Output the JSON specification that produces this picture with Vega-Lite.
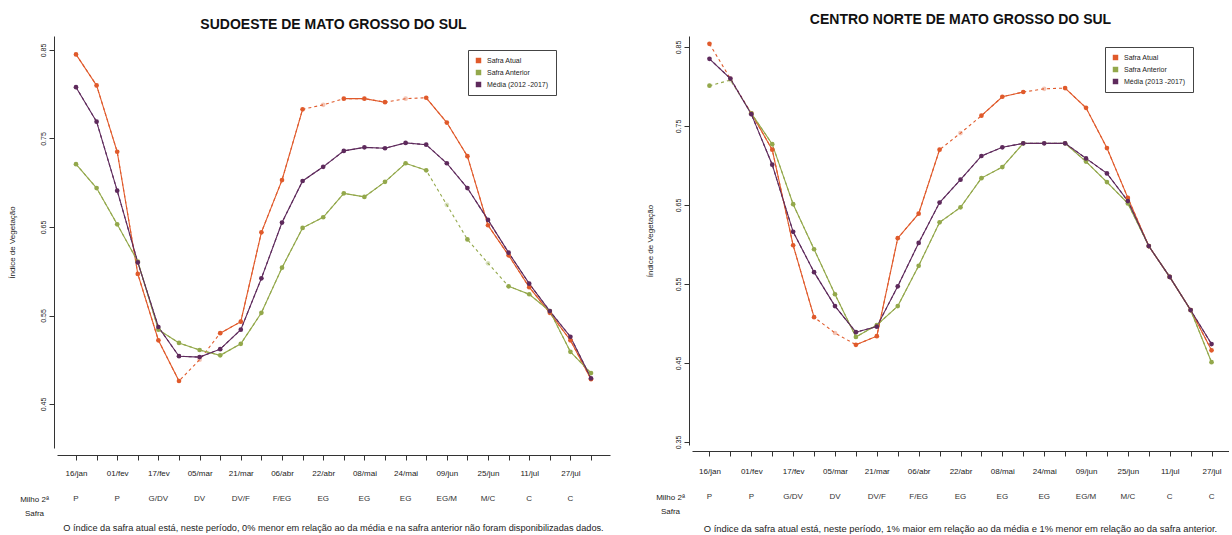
{
"$schema": "https://vega.github.io/schema/vega-lite/v6.json",
"padding": {"left": 8, "top": 13, "right": 0, "bottom": 0},
"spacing": 36,
"resolve": {"scale": {"color": "independent", "x": "independent", "y": "independent"}},
"config": {
  "view": {"stroke": null},
  "font": "Liberation Sans",
  "axis": {"domainColor": "#333", "tickColor": "#333", "labelColor": "#222", "titleColor": "#222", "grid": false, "labelFont": "Liberation Sans", "titleFont": "Liberation Sans"},
  "title": {"color": "#111", "font": "Liberation Sans", "fontWeight": "bold", "fontSize": 14},
  "legend": {"padding": 7, "strokeColor": "#444", "fillColor": "white", "labelFontSize": 7, "symbolSize": 30, "symbolType": "square", "rowPadding": 4, "labelOffset": 5, "symbolStrokeWidth": 0, "labelColor": "#222"}
},
"datasets": {
  "estagios": [
    {"data": "16/jan", "estagio": "P", "cultura": "Milho 2ª Safra"},
    {"data": "01/fev", "estagio": "P", "cultura": "Milho 2ª Safra"},
    {"data": "17/fev", "estagio": "G/DV", "cultura": "Milho 2ª Safra"},
    {"data": "05/mar", "estagio": "DV", "cultura": "Milho 2ª Safra"},
    {"data": "21/mar", "estagio": "DV/F", "cultura": "Milho 2ª Safra"},
    {"data": "06/abr", "estagio": "F/EG", "cultura": "Milho 2ª Safra"},
    {"data": "22/abr", "estagio": "EG", "cultura": "Milho 2ª Safra"},
    {"data": "08/mai", "estagio": "EG", "cultura": "Milho 2ª Safra"},
    {"data": "24/mai", "estagio": "EG", "cultura": "Milho 2ª Safra"},
    {"data": "09/jun", "estagio": "EG/M", "cultura": "Milho 2ª Safra"},
    {"data": "25/jun", "estagio": "M/C", "cultura": "Milho 2ª Safra"},
    {"data": "11/jul", "estagio": "C", "cultura": "Milho 2ª Safra"},
    {"data": "27/jul", "estagio": "C", "cultura": "Milho 2ª Safra"}
  ],
  "sudoeste": [
    {"serie": "Safra Atual", "data": "16/jan", "indice": 0.845, "estimado": false, "trecho": 1},
    {"serie": "Safra Atual", "data": "24/jan", "indice": 0.810, "estimado": false, "trecho": 1},
    {"serie": "Safra Atual", "data": "01/fev", "indice": 0.735, "estimado": false, "trecho": 1},
    {"serie": "Safra Atual", "data": "09/fev", "indice": 0.597, "estimado": false, "trecho": 1},
    {"serie": "Safra Atual", "data": "17/fev", "indice": 0.522, "estimado": false, "trecho": 1},
    {"serie": "Safra Atual", "data": "25/fev", "indice": 0.476, "estimado": false, "trecho": 1},
    {"serie": "Safra Atual", "data": "05/mar", "indice": 0.500, "estimado": true, "trecho": 0},
    {"serie": "Safra Atual", "data": "13/mar", "indice": 0.530, "estimado": false, "trecho": 2},
    {"serie": "Safra Atual", "data": "21/mar", "indice": 0.543, "estimado": false, "trecho": 2},
    {"serie": "Safra Atual", "data": "29/mar", "indice": 0.644, "estimado": false, "trecho": 2},
    {"serie": "Safra Atual", "data": "06/abr", "indice": 0.703, "estimado": false, "trecho": 2},
    {"serie": "Safra Atual", "data": "14/abr", "indice": 0.783, "estimado": false, "trecho": 2},
    {"serie": "Safra Atual", "data": "22/abr", "indice": 0.788, "estimado": true, "trecho": 0},
    {"serie": "Safra Atual", "data": "30/abr", "indice": 0.795, "estimado": false, "trecho": 3},
    {"serie": "Safra Atual", "data": "08/mai", "indice": 0.795, "estimado": false, "trecho": 3},
    {"serie": "Safra Atual", "data": "16/mai", "indice": 0.791, "estimado": false, "trecho": 3},
    {"serie": "Safra Atual", "data": "24/mai", "indice": 0.795, "estimado": true, "trecho": 0},
    {"serie": "Safra Atual", "data": "01/jun", "indice": 0.796, "estimado": false, "trecho": 4},
    {"serie": "Safra Atual", "data": "09/jun", "indice": 0.768, "estimado": false, "trecho": 4},
    {"serie": "Safra Atual", "data": "17/jun", "indice": 0.730, "estimado": false, "trecho": 4},
    {"serie": "Safra Atual", "data": "25/jun", "indice": 0.652, "estimado": false, "trecho": 4},
    {"serie": "Safra Atual", "data": "03/jul", "indice": 0.618, "estimado": false, "trecho": 4},
    {"serie": "Safra Atual", "data": "11/jul", "indice": 0.582, "estimado": false, "trecho": 4},
    {"serie": "Safra Atual", "data": "19/jul", "indice": 0.553, "estimado": false, "trecho": 4},
    {"serie": "Safra Atual", "data": "27/jul", "indice": 0.522, "estimado": false, "trecho": 4},
    {"serie": "Safra Atual", "data": "04/ago", "indice": 0.478, "estimado": false, "trecho": 4},
    {"serie": "Safra Anterior", "data": "16/jan", "indice": 0.721, "estimado": false, "trecho": 1},
    {"serie": "Safra Anterior", "data": "24/jan", "indice": 0.694, "estimado": false, "trecho": 1},
    {"serie": "Safra Anterior", "data": "01/fev", "indice": 0.653, "estimado": false, "trecho": 1},
    {"serie": "Safra Anterior", "data": "09/fev", "indice": 0.611, "estimado": false, "trecho": 1},
    {"serie": "Safra Anterior", "data": "17/fev", "indice": 0.534, "estimado": false, "trecho": 1},
    {"serie": "Safra Anterior", "data": "25/fev", "indice": 0.519, "estimado": false, "trecho": 1},
    {"serie": "Safra Anterior", "data": "05/mar", "indice": 0.511, "estimado": false, "trecho": 1},
    {"serie": "Safra Anterior", "data": "13/mar", "indice": 0.505, "estimado": false, "trecho": 1},
    {"serie": "Safra Anterior", "data": "21/mar", "indice": 0.518, "estimado": false, "trecho": 1},
    {"serie": "Safra Anterior", "data": "29/mar", "indice": 0.553, "estimado": false, "trecho": 1},
    {"serie": "Safra Anterior", "data": "06/abr", "indice": 0.604, "estimado": false, "trecho": 1},
    {"serie": "Safra Anterior", "data": "14/abr", "indice": 0.649, "estimado": false, "trecho": 1},
    {"serie": "Safra Anterior", "data": "22/abr", "indice": 0.661, "estimado": false, "trecho": 1},
    {"serie": "Safra Anterior", "data": "30/abr", "indice": 0.688, "estimado": false, "trecho": 1},
    {"serie": "Safra Anterior", "data": "08/mai", "indice": 0.684, "estimado": false, "trecho": 1},
    {"serie": "Safra Anterior", "data": "16/mai", "indice": 0.701, "estimado": false, "trecho": 1},
    {"serie": "Safra Anterior", "data": "24/mai", "indice": 0.722, "estimado": false, "trecho": 1},
    {"serie": "Safra Anterior", "data": "01/jun", "indice": 0.714, "estimado": false, "trecho": 1},
    {"serie": "Safra Anterior", "data": "09/jun", "indice": 0.675, "estimado": true, "trecho": 0},
    {"serie": "Safra Anterior", "data": "17/jun", "indice": 0.636, "estimado": false, "trecho": 2},
    {"serie": "Safra Anterior", "data": "25/jun", "indice": 0.609, "estimado": true, "trecho": 0},
    {"serie": "Safra Anterior", "data": "03/jul", "indice": 0.583, "estimado": false, "trecho": 3},
    {"serie": "Safra Anterior", "data": "11/jul", "indice": 0.574, "estimado": false, "trecho": 3},
    {"serie": "Safra Anterior", "data": "19/jul", "indice": 0.555, "estimado": false, "trecho": 3},
    {"serie": "Safra Anterior", "data": "27/jul", "indice": 0.509, "estimado": false, "trecho": 3},
    {"serie": "Safra Anterior", "data": "04/ago", "indice": 0.485, "estimado": false, "trecho": 3},
    {"serie": "Média (2012 -2017)", "data": "16/jan", "indice": 0.808, "estimado": false, "trecho": 1},
    {"serie": "Média (2012 -2017)", "data": "24/jan", "indice": 0.769, "estimado": false, "trecho": 1},
    {"serie": "Média (2012 -2017)", "data": "01/fev", "indice": 0.691, "estimado": false, "trecho": 1},
    {"serie": "Média (2012 -2017)", "data": "09/fev", "indice": 0.610, "estimado": false, "trecho": 1},
    {"serie": "Média (2012 -2017)", "data": "17/fev", "indice": 0.537, "estimado": false, "trecho": 1},
    {"serie": "Média (2012 -2017)", "data": "25/fev", "indice": 0.504, "estimado": false, "trecho": 1},
    {"serie": "Média (2012 -2017)", "data": "05/mar", "indice": 0.503, "estimado": false, "trecho": 1},
    {"serie": "Média (2012 -2017)", "data": "13/mar", "indice": 0.512, "estimado": false, "trecho": 1},
    {"serie": "Média (2012 -2017)", "data": "21/mar", "indice": 0.534, "estimado": false, "trecho": 1},
    {"serie": "Média (2012 -2017)", "data": "29/mar", "indice": 0.592, "estimado": false, "trecho": 1},
    {"serie": "Média (2012 -2017)", "data": "06/abr", "indice": 0.655, "estimado": false, "trecho": 1},
    {"serie": "Média (2012 -2017)", "data": "14/abr", "indice": 0.702, "estimado": false, "trecho": 1},
    {"serie": "Média (2012 -2017)", "data": "22/abr", "indice": 0.718, "estimado": false, "trecho": 1},
    {"serie": "Média (2012 -2017)", "data": "30/abr", "indice": 0.736, "estimado": false, "trecho": 1},
    {"serie": "Média (2012 -2017)", "data": "08/mai", "indice": 0.740, "estimado": false, "trecho": 1},
    {"serie": "Média (2012 -2017)", "data": "16/mai", "indice": 0.739, "estimado": false, "trecho": 1},
    {"serie": "Média (2012 -2017)", "data": "24/mai", "indice": 0.745, "estimado": false, "trecho": 1},
    {"serie": "Média (2012 -2017)", "data": "01/jun", "indice": 0.743, "estimado": false, "trecho": 1},
    {"serie": "Média (2012 -2017)", "data": "09/jun", "indice": 0.722, "estimado": false, "trecho": 1},
    {"serie": "Média (2012 -2017)", "data": "17/jun", "indice": 0.694, "estimado": false, "trecho": 1},
    {"serie": "Média (2012 -2017)", "data": "25/jun", "indice": 0.658, "estimado": false, "trecho": 1},
    {"serie": "Média (2012 -2017)", "data": "03/jul", "indice": 0.621, "estimado": false, "trecho": 1},
    {"serie": "Média (2012 -2017)", "data": "11/jul", "indice": 0.586, "estimado": false, "trecho": 1},
    {"serie": "Média (2012 -2017)", "data": "19/jul", "indice": 0.555, "estimado": false, "trecho": 1},
    {"serie": "Média (2012 -2017)", "data": "27/jul", "indice": 0.526, "estimado": false, "trecho": 1},
    {"serie": "Média (2012 -2017)", "data": "04/ago", "indice": 0.479, "estimado": false, "trecho": 1}
  ],
  "centro_norte": [
    {"serie": "Safra Atual", "data": "16/jan", "indice": 0.854, "estimado": false, "trecho": 1},
    {"serie": "Safra Atual", "data": "24/jan", "indice": 0.810, "estimado": true, "trecho": 0},
    {"serie": "Safra Atual", "data": "01/fev", "indice": 0.766, "estimado": false, "trecho": 2},
    {"serie": "Safra Atual", "data": "09/fev", "indice": 0.720, "estimado": false, "trecho": 2},
    {"serie": "Safra Atual", "data": "17/fev", "indice": 0.599, "estimado": false, "trecho": 2},
    {"serie": "Safra Atual", "data": "25/fev", "indice": 0.508, "estimado": false, "trecho": 2},
    {"serie": "Safra Atual", "data": "05/mar", "indice": 0.488, "estimado": true, "trecho": 0},
    {"serie": "Safra Atual", "data": "13/mar", "indice": 0.473, "estimado": false, "trecho": 3},
    {"serie": "Safra Atual", "data": "21/mar", "indice": 0.484, "estimado": false, "trecho": 3},
    {"serie": "Safra Atual", "data": "29/mar", "indice": 0.608, "estimado": false, "trecho": 3},
    {"serie": "Safra Atual", "data": "06/abr", "indice": 0.639, "estimado": false, "trecho": 3},
    {"serie": "Safra Atual", "data": "14/abr", "indice": 0.720, "estimado": false, "trecho": 3},
    {"serie": "Safra Atual", "data": "22/abr", "indice": 0.741, "estimado": true, "trecho": 0},
    {"serie": "Safra Atual", "data": "30/abr", "indice": 0.763, "estimado": false, "trecho": 4},
    {"serie": "Safra Atual", "data": "08/mai", "indice": 0.787, "estimado": false, "trecho": 4},
    {"serie": "Safra Atual", "data": "16/mai", "indice": 0.793, "estimado": false, "trecho": 4},
    {"serie": "Safra Atual", "data": "24/mai", "indice": 0.797, "estimado": true, "trecho": 0},
    {"serie": "Safra Atual", "data": "01/jun", "indice": 0.798, "estimado": false, "trecho": 5},
    {"serie": "Safra Atual", "data": "09/jun", "indice": 0.773, "estimado": false, "trecho": 5},
    {"serie": "Safra Atual", "data": "17/jun", "indice": 0.722, "estimado": false, "trecho": 5},
    {"serie": "Safra Atual", "data": "25/jun", "indice": 0.659, "estimado": false, "trecho": 5},
    {"serie": "Safra Atual", "data": "03/jul", "indice": 0.598, "estimado": false, "trecho": 5},
    {"serie": "Safra Atual", "data": "11/jul", "indice": 0.559, "estimado": false, "trecho": 5},
    {"serie": "Safra Atual", "data": "19/jul", "indice": 0.517, "estimado": false, "trecho": 5},
    {"serie": "Safra Atual", "data": "27/jul", "indice": 0.466, "estimado": false, "trecho": 5},
    {"serie": "Safra Anterior", "data": "16/jan", "indice": 0.801, "estimado": false, "trecho": 1},
    {"serie": "Safra Anterior", "data": "24/jan", "indice": 0.808, "estimado": true, "trecho": 0},
    {"serie": "Safra Anterior", "data": "01/fev", "indice": 0.766, "estimado": false, "trecho": 2},
    {"serie": "Safra Anterior", "data": "09/fev", "indice": 0.727, "estimado": false, "trecho": 2},
    {"serie": "Safra Anterior", "data": "17/fev", "indice": 0.651, "estimado": false, "trecho": 2},
    {"serie": "Safra Anterior", "data": "25/fev", "indice": 0.594, "estimado": false, "trecho": 2},
    {"serie": "Safra Anterior", "data": "05/mar", "indice": 0.537, "estimado": false, "trecho": 2},
    {"serie": "Safra Anterior", "data": "13/mar", "indice": 0.483, "estimado": false, "trecho": 2},
    {"serie": "Safra Anterior", "data": "21/mar", "indice": 0.498, "estimado": false, "trecho": 2},
    {"serie": "Safra Anterior", "data": "29/mar", "indice": 0.522, "estimado": false, "trecho": 2},
    {"serie": "Safra Anterior", "data": "06/abr", "indice": 0.573, "estimado": false, "trecho": 2},
    {"serie": "Safra Anterior", "data": "14/abr", "indice": 0.628, "estimado": false, "trecho": 2},
    {"serie": "Safra Anterior", "data": "22/abr", "indice": 0.647, "estimado": false, "trecho": 2},
    {"serie": "Safra Anterior", "data": "30/abr", "indice": 0.684, "estimado": false, "trecho": 2},
    {"serie": "Safra Anterior", "data": "08/mai", "indice": 0.698, "estimado": false, "trecho": 2},
    {"serie": "Safra Anterior", "data": "16/mai", "indice": 0.728, "estimado": false, "trecho": 2},
    {"serie": "Safra Anterior", "data": "24/mai", "indice": 0.728, "estimado": true, "trecho": 0},
    {"serie": "Safra Anterior", "data": "01/jun", "indice": 0.728, "estimado": false, "trecho": 3},
    {"serie": "Safra Anterior", "data": "09/jun", "indice": 0.705, "estimado": false, "trecho": 3},
    {"serie": "Safra Anterior", "data": "17/jun", "indice": 0.679, "estimado": false, "trecho": 3},
    {"serie": "Safra Anterior", "data": "25/jun", "indice": 0.652, "estimado": false, "trecho": 3},
    {"serie": "Safra Anterior", "data": "03/jul", "indice": 0.598, "estimado": false, "trecho": 3},
    {"serie": "Safra Anterior", "data": "11/jul", "indice": 0.559, "estimado": false, "trecho": 3},
    {"serie": "Safra Anterior", "data": "19/jul", "indice": 0.517, "estimado": false, "trecho": 3},
    {"serie": "Safra Anterior", "data": "27/jul", "indice": 0.451, "estimado": false, "trecho": 3},
    {"serie": "Média (2013 -2017)", "data": "16/jan", "indice": 0.835, "estimado": false, "trecho": 1},
    {"serie": "Média (2013 -2017)", "data": "24/jan", "indice": 0.810, "estimado": false, "trecho": 1},
    {"serie": "Média (2013 -2017)", "data": "01/fev", "indice": 0.765, "estimado": false, "trecho": 1},
    {"serie": "Média (2013 -2017)", "data": "09/fev", "indice": 0.701, "estimado": false, "trecho": 1},
    {"serie": "Média (2013 -2017)", "data": "17/fev", "indice": 0.616, "estimado": false, "trecho": 1},
    {"serie": "Média (2013 -2017)", "data": "25/fev", "indice": 0.565, "estimado": false, "trecho": 1},
    {"serie": "Média (2013 -2017)", "data": "05/mar", "indice": 0.522, "estimado": false, "trecho": 1},
    {"serie": "Média (2013 -2017)", "data": "13/mar", "indice": 0.489, "estimado": false, "trecho": 1},
    {"serie": "Média (2013 -2017)", "data": "21/mar", "indice": 0.496, "estimado": false, "trecho": 1},
    {"serie": "Média (2013 -2017)", "data": "29/mar", "indice": 0.547, "estimado": false, "trecho": 1},
    {"serie": "Média (2013 -2017)", "data": "06/abr", "indice": 0.602, "estimado": false, "trecho": 1},
    {"serie": "Média (2013 -2017)", "data": "14/abr", "indice": 0.653, "estimado": false, "trecho": 1},
    {"serie": "Média (2013 -2017)", "data": "22/abr", "indice": 0.682, "estimado": false, "trecho": 1},
    {"serie": "Média (2013 -2017)", "data": "30/abr", "indice": 0.712, "estimado": false, "trecho": 1},
    {"serie": "Média (2013 -2017)", "data": "08/mai", "indice": 0.723, "estimado": false, "trecho": 1},
    {"serie": "Média (2013 -2017)", "data": "16/mai", "indice": 0.728, "estimado": false, "trecho": 1},
    {"serie": "Média (2013 -2017)", "data": "24/mai", "indice": 0.728, "estimado": false, "trecho": 1},
    {"serie": "Média (2013 -2017)", "data": "01/jun", "indice": 0.728, "estimado": false, "trecho": 1},
    {"serie": "Média (2013 -2017)", "data": "09/jun", "indice": 0.709, "estimado": false, "trecho": 1},
    {"serie": "Média (2013 -2017)", "data": "17/jun", "indice": 0.690, "estimado": false, "trecho": 1},
    {"serie": "Média (2013 -2017)", "data": "25/jun", "indice": 0.655, "estimado": false, "trecho": 1},
    {"serie": "Média (2013 -2017)", "data": "03/jul", "indice": 0.598, "estimado": false, "trecho": 1},
    {"serie": "Média (2013 -2017)", "data": "11/jul", "indice": 0.559, "estimado": false, "trecho": 1},
    {"serie": "Média (2013 -2017)", "data": "19/jul", "indice": 0.517, "estimado": false, "trecho": 1},
    {"serie": "Média (2013 -2017)", "data": "27/jul", "indice": 0.474, "estimado": false, "trecho": 1}
  ]
},
"hconcat": [
  {
    "spacing": 12,
    "vconcat": [
      {
        "width": 553, "height": 412,
        "title": {"text": "SUDOESTE DE MATO GROSSO DO SUL", "offset": 4},
        "data": {"name": "sudoeste"},
        "encoding": {
          "x": {"field": "data", "type": "ordinal",
                "sort": ["16/jan","24/jan","01/fev","09/fev","17/fev","25/fev","05/mar","13/mar","21/mar","29/mar","06/abr","14/abr","22/abr","30/abr","08/mai","16/mai","24/mai","01/jun","09/jun","17/jun","25/jun","03/jul","11/jul","19/jul","27/jul","04/ago"],
                "scale": {"type": "point", "padding": 0.922},
                "axis": {"title": null, "labelAngle": 0, "labelOverlap": false, "labelExpr": "round(datum.index * 25) % 2 == 0 ? datum.label : ''", "tickSize": 5, "labelPadding": 9, "offset": 7, "labelFontSize": 8}},
          "y": {"field": "indice", "type": "quantitative",
                "scale": {"domain": [0.4003, 0.8658], "zero": false, "nice": false},
                "axis": {"title": "Índice de Vegetação", "values": [0.45, 0.55, 0.65, 0.75, 0.85], "format": ".2f", "labelAngle": -90, "offset": 3, "tickSize": 5, "labelPadding": 3, "labelFontSize": 7, "titleFontSize": 8, "titleFontWeight": "normal", "titlePadding": 23}},
          "color": {"field": "serie", "type": "nominal",
                    "scale": {"domain": ["Safra Atual", "Safra Anterior", "Média (2012 -2017)"], "range": ["#E05A2B", "#93A84B", "#5E2A5C"]},
                    "legend": {"title": null, "orient": "none", "legendX": 411, "legendY": 14}}
        },
        "layer": [
          {"mark": {"type": "line", "strokeDash": [3, 3], "strokeWidth": 1.1}},
          {"transform": [{"filter": "!datum.estimado"}], "mark": {"type": "line", "strokeWidth": 1.1}, "encoding": {"detail": {"field": "trecho", "type": "nominal"}}},
          {"mark": {"type": "circle", "size": 22}, "encoding": {"opacity": {"condition": {"test": "datum.estimado", "value": 0.35}, "value": 1}}}
        ]
      },
      {
        "width": 553, "height": 20,
        "data": {"name": "estagios"},
        "title": {"text": "O índice da safra atual está, neste período, 0% menor em relação ao da média e na safra anterior não foram disponibilizadas dados.", "orient": "bottom", "fontSize": 9.2, "fontWeight": "normal", "offset": 7, "color": "#222"},
        "mark": {"type": "text", "fontSize": 8, "color": "#333"},
        "encoding": {
          "x": {"field": "data", "type": "ordinal",
                "scale": {"type": "point", "padding": 0.922, "domain": ["16/jan","24/jan","01/fev","09/fev","17/fev","25/fev","05/mar","13/mar","21/mar","29/mar","06/abr","14/abr","22/abr","30/abr","08/mai","16/mai","24/mai","01/jun","09/jun","17/jun","25/jun","03/jul","11/jul","19/jul","27/jul","04/ago"]},
                "axis": null},
          "y": {"field": "cultura", "type": "nominal",
                "axis": {"title": null, "domain": false, "ticks": false, "tickSize": 0, "labelExpr": "[slice(datum.label, 0, 8), slice(datum.label, 9)]", "labelAlign": "center", "labelPadding": 23, "labelFontSize": 8, "labelLineHeight": 14}},
          "text": {"field": "estagio", "type": "nominal"}
        }
      }
    ]
  },
  {
    "spacing": 12,
    "vconcat": [
      {
        "width": 537, "height": 409,
        "title": {"text": "CENTRO NORTE DE MATO GROSSO DO SUL", "offset": 9},
        "data": {"name": "centro_norte"},
        "encoding": {
          "x": {"field": "data", "type": "ordinal",
                "sort": ["16/jan","24/jan","01/fev","09/fev","17/fev","25/fev","05/mar","13/mar","21/mar","29/mar","06/abr","14/abr","22/abr","30/abr","08/mai","16/mai","24/mai","01/jun","09/jun","17/jun","25/jun","03/jul","11/jul","19/jul","27/jul"],
                "scale": {"type": "point", "padding": 0.835},
                "axis": {"title": null, "labelAngle": 0, "labelOverlap": false, "labelExpr": "round(datum.index * 24) % 2 == 0 ? datum.label : ''", "tickSize": 5, "labelPadding": 11, "offset": 6, "labelFontSize": 8}},
          "y": {"field": "indice", "type": "quantitative",
                "scale": {"domain": [0.3462, 0.8639], "zero": false, "nice": false},
                "axis": {"title": "Índice de Vegetação", "values": [0.35, 0.45, 0.55, 0.65, 0.75, 0.85], "format": ".2f", "labelAngle": -90, "offset": 3, "tickSize": 5, "labelPadding": 3, "labelFontSize": 7, "titleFontSize": 8, "titleFontWeight": "normal", "titlePadding": 20}},
          "color": {"field": "serie", "type": "nominal",
                    "scale": {"domain": ["Safra Atual", "Safra Anterior", "Média (2013 -2017)"], "range": ["#E05A2B", "#93A84B", "#5E2A5C"]},
                    "legend": {"title": null, "orient": "none", "legendX": 413, "legendY": 11}}
        },
        "layer": [
          {"mark": {"type": "line", "strokeDash": [3, 3], "strokeWidth": 1.1}},
          {"transform": [{"filter": "!datum.estimado"}], "mark": {"type": "line", "strokeWidth": 1.1}, "encoding": {"detail": {"field": "trecho", "type": "nominal"}}},
          {"mark": {"type": "circle", "size": 22}, "encoding": {"opacity": {"condition": {"test": "datum.estimado", "value": 0.35}, "value": 1}}}
        ]
      },
      {
        "width": 537, "height": 20,
        "data": {"name": "estagios"},
        "title": {"text": "O índice da safra atual está, neste período, 1% maior em relação ao da média e 1% menor em relação ao da safra anterior.", "orient": "bottom", "fontSize": 9.4, "fontWeight": "normal", "offset": 10, "color": "#222"},
        "mark": {"type": "text", "fontSize": 8, "color": "#333"},
        "encoding": {
          "x": {"field": "data", "type": "ordinal",
                "scale": {"type": "point", "padding": 0.835, "domain": ["16/jan","24/jan","01/fev","09/fev","17/fev","25/fev","05/mar","13/mar","21/mar","29/mar","06/abr","14/abr","22/abr","30/abr","08/mai","16/mai","24/mai","01/jun","09/jun","17/jun","25/jun","03/jul","11/jul","19/jul","27/jul"]},
                "axis": null},
          "y": {"field": "cultura", "type": "nominal",
                "axis": {"title": null, "domain": false, "ticks": false, "tickSize": 0, "labelExpr": "[slice(datum.label, 0, 8), slice(datum.label, 9)]", "labelAlign": "center", "labelPadding": 22, "labelFontSize": 8, "labelLineHeight": 14}},
          "text": {"field": "estagio", "type": "nominal"}
        }
      }
    ]
  }
]
}
